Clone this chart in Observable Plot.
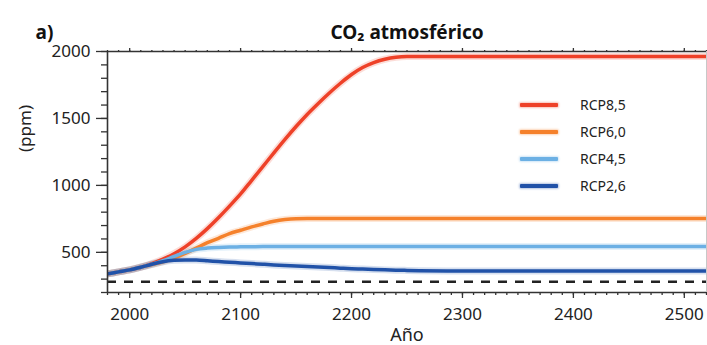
<!DOCTYPE html>
<html><head><meta charset="utf-8">
<script src="https://cdn.jsdelivr.net/npm/d3@7"></script>
<script src="https://cdn.jsdelivr.net/npm/@observablehq/plot@0.6"></script>
<style>
body{margin:0;background:#fff;font-family:"Noto Sans",sans-serif;}
#wrap{position:relative;width:707px;height:345px;}
#legend{position:absolute;left:520px;top:91px;font-size:14px;color:#222;}
#legend .row{display:flex;align-items:center;height:27px;}
#legend .sw{width:38px;height:4px;border-radius:1px;margin-right:22px;}
</style></head>
<body><div id="wrap"></div>
<script>
// ---- data ----
const years = [1980,1990,2000,2010,2020,2030,2040,2050,2060,2070,2080,2090,2100,2110,2120,2130,2140,2150,2160,2170,2180,2190,2200,2210,2220,2230,2240,2250,2300,2400,2520];
const rcp85 = [339,354,369,389,416,449,490,541,604,677,758,845,936,1038,1140,1243,1344,1440,1530,1612,1690,1763,1828,1880,1917,1942,1957,1962,1962,1962,1962];
const rcp60 = [339,354,369,389,409,430,457,492,532,572,605,640,665,690,712,732,745,751,752,752,752,752,752,752,752,752,752,752,752,752,752];
const rcp45 = [339,354,369,389,412,437,470,500,522,532,537,540,541,542,543,543,543,543,543,543,543,543,543,543,543,543,543,543,543,543,543];
const rcp26 = [339,354,369,389,411,430,440,443,442,437,431,426,421,416,411,406,402,398,394,390,386,382,378,375,372,369,367,365,361,360,360];
const seriesNames = ["RCP8,5","RCP6,0","RCP4,5","RCP2,6"];
const seriesValues = [rcp85, rcp60, rcp45, rcp26];
const seriesColors = ["#ee4128","#f5812b","#6cb0e4","#2152a8"];
const preindustrial = 280;
const xDomain = [1980, 2520];
const yDomain = [200, 2000];
const xMajor = [2000,2100,2200,2300,2400,2500];
const yMajor = [500,1000,1500,2000];
const xMinor = d3.range(1980, 2521, 10);
const yMinor = d3.range(200, 2001, 100);
const title = "CO₂ atmosférico";
const panel = "a)";
const xLabel = "Año";
const yLabel = "(ppm)";

const rows = [];
seriesNames.forEach((name, i) => years.forEach((yr, j) => rows.push({series: name, year: yr, value: seriesValues[i][j]})));

const color = {domain: seriesNames, range: seriesColors};
const axisColor = "#333";
const fmt = d => String(d);

const plot = Plot.plot({
  width: 707, height: 345,
  marginLeft: 107, marginRight: 1, marginTop: 51, marginBottom: 53,
  style: {fontFamily: '"Noto Sans", sans-serif', fontSize: "17px", color: "#222", background: "transparent", overflow: "visible"},
  x: {domain: xDomain},
  y: {domain: yDomain},
  color,
  marks: [
    Plot.ruleY([preindustrial], {stroke: "#222", strokeWidth: 2.4, strokeDasharray: "9,8"}),
    // halos
    Plot.line(rows, {x: "year", y: "value", z: "series", stroke: "series", strokeWidth: 7, strokeOpacity: 0.18, curve: "monotone-x", clip: true}),
    Plot.line(rows, {x: "year", y: "value", z: "series", stroke: "series", strokeWidth: 3.5, curve: "monotone-x", clip: true}),
    // axes
    Plot.axisY(yMinor, {tickSize: 6, tickFormat: () => "", label: null, stroke: axisColor, strokeWidth: 1.3}),
    Plot.axisY(yMajor, {tickSize: 11, tickPadding: 6, tickFormat: fmt, label: null, stroke: axisColor, strokeWidth: 1.3, fill: "#222"}),
    Plot.axisX(xMinor, {tickSize: 3, tickFormat: () => "", label: null, stroke: axisColor, strokeWidth: 1.3}),
    Plot.axisX(xMajor, {tickSize: 6, tickPadding: 9, tickFormat: fmt, label: null, stroke: axisColor, strokeWidth: 1.3, fill: "#222"}),
    Plot.axisX(xMinor, {anchor: "top", tickSize: 2, tickFormat: () => "", label: null, stroke: axisColor, strokeWidth: 1.3}),
    Plot.axisX(xMajor, {anchor: "top", tickSize: 4, tickFormat: () => "", label: null, stroke: axisColor, strokeWidth: 1.3}),
    Plot.ruleX([xDomain[0]], {stroke: axisColor, strokeWidth: 1.6}),
    Plot.ruleY([yDomain[0]], {stroke: axisColor, strokeWidth: 1.6}),
    Plot.ruleY([yDomain[1]], {stroke: axisColor, strokeWidth: 1.6}),
    Plot.ruleX([xDomain[1]], {stroke: "#c8c8c8", strokeWidth: 1}),
    Plot.text([yLabel], {frameAnchor: "left", dx: -82, dy: -20, rotate: -90, fontSize: 17, fill: "#222"}),
    Plot.text([xLabel], {frameAnchor: "bottom", dy: 48, fontSize: 18, fill: "#222"}),
    Plot.text([title], {frameAnchor: "top", dy: -26, fontWeight: "bold", fontSize: 19, fill: "#111"}),
    Plot.text([panel], {frameAnchor: "top-left", dx: -72, dy: -26, textAnchor: "start", fontWeight: "bold", fontSize: 19, fill: "#111"})
  ]
});

const wrap = document.getElementById("wrap");
wrap.appendChild(plot);
const legend = document.createElement("div");
legend.id = "legend";
seriesNames.forEach((name, i) => {
  const row = document.createElement("div");
  row.className = "row";
  const sw = document.createElement("span");
  sw.className = "sw";
  sw.style.background = seriesColors[i];
  sw.style.boxShadow = `0 0 2px 1px ${seriesColors[i]}55`;
  const t = document.createElement("span");
  t.textContent = name;
  row.appendChild(sw); row.appendChild(t);
  legend.appendChild(row);
});
wrap.appendChild(legend);
</script>
</body></html>
